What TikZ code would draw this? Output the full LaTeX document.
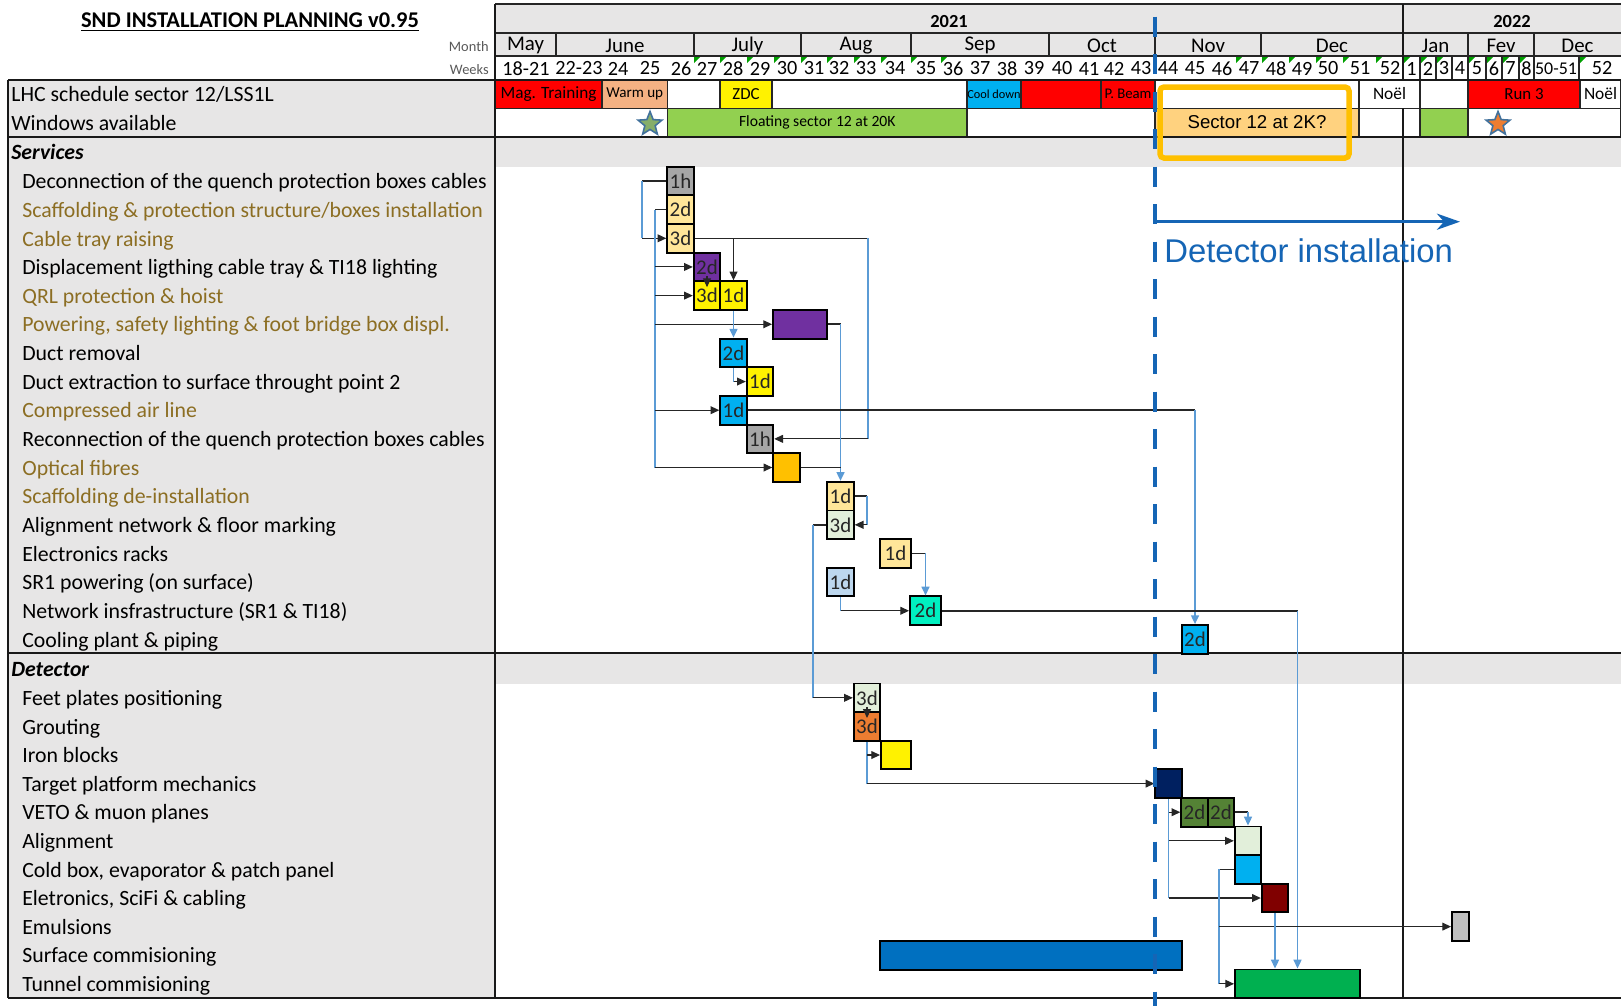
\documentclass[tikz,border=0pt]{standalone}
\usepackage{fontspec}
\setmainfont{Carlito}
\newfontfamily\arialfont{Liberation Sans}
\usetikzlibrary{arrows.meta,calc,shapes.geometric}
\newcommand{\fsz}[1]{\fontsize{#1}{#1}\selectfont}
\definecolor{bandgray}{HTML}{E7E6E6}
\definecolor{brownlbl}{RGB}{140,110,35}
\definecolor{lnkblue}{HTML}{5B9BD5}
\definecolor{dashblue}{HTML}{1565B5}
\definecolor{salmon}{HTML}{F4B183}
\definecolor{skycyan}{HTML}{00B0F0}
\definecolor{floatgreen}{HTML}{92D050}
\definecolor{sectorfill}{HTML}{FFD27F}
\definecolor{sectorline}{HTML}{FFC000}
\definecolor{tanbox}{HTML}{FFE699}
\definecolor{purplebox}{HTML}{7030A0}
\definecolor{graybox}{HTML}{A6A6A6}
\definecolor{palegreen}{HTML}{E2EFDA}
\definecolor{paleblue}{HTML}{BDD7EE}
\definecolor{aquabox}{HTML}{00F0C0}
\definecolor{amber}{HTML}{FFC000}
\definecolor{burnt}{HTML}{ED7D31}
\definecolor{navybox}{HTML}{002060}
\definecolor{olivebox}{HTML}{548235}
\definecolor{maroonbox}{HTML}{800000}
\definecolor{silverbox}{HTML}{BFBFBF}
\definecolor{barblue}{HTML}{0070C0}
\definecolor{tunnelgreen}{HTML}{00B050}
\definecolor{starblue}{HTML}{41719C}
\definecolor{stargreen}{HTML}{86AE6A}
\definecolor{cmtgreen}{HTML}{00A000}
\tikzstyle{task}=[rectangle,draw,line width=1.1pt,minimum width=0.53cm,minimum height=0.573cm,inner sep=0pt,text=black!85,font=\fsz{11.9}]
\tikzstyle{cell}=[rectangle,draw=black!85,line width=0.6pt,minimum height=0.57cm,inner sep=0pt]
\tikzstyle{lbl}=[anchor=west,inner sep=0pt,yshift=-1.4pt,text height=8.5pt,text depth=2.5pt,font=\fsz{12.4}]
\tikzstyle{hdr}=[inner sep=0pt,font=\fsz{11.9}]
\tikzstyle{wk}=[inner sep=0pt,font=\fsz{11.5}]
\tikzstyle{grid}=[draw=black!85,line width=0.7pt]
\tikzstyle{frame}=[draw=black!90,line width=1.1pt]
\tikzstyle{hln}=[draw=black!85,line width=0.9pt]
\tikzstyle{vln}=[draw=lnkblue,line width=0.9pt]
\tikzstyle{arr}=[->,>={Triangle[length=5pt,width=4.5pt]},draw=black!85,line width=0.6pt]
\tikzstyle{blarr}=[->,>={Triangle[length=5pt,width=4.5pt]},draw=lnkblue,line width=0.9pt]
\begin{document}
\begin{tikzpicture}[x=0.02cm,y=-0.02cm]
    \useasboundingbox (0,0) rectangle (1621,1005);
    \fill[white] (0,0) rectangle (1621,1005);
    \fill[bandgray] (495,4) rectangle (1621,56);
    \fill[bandgray] (8,80) rectangle (495,998);
    \fill[bandgray] (495,137) rectangle (1621,167);
    \fill[bandgray] (495,653) rectangle (1621,684);

    \node[font=\fsz{12.8}\bfseries] (title) at (250,22) {\underline{SND INSTALLATION PLANNING v0.95}};
    \node[anchor=east,inner sep=0pt,text=black!65,font=\fsz{8.2}] (month) at (489,47) {Month};
    \node[anchor=east,inner sep=0pt,text=black!65,font=\fsz{8.2}] (weeks) at (489,70) {Weeks};
    \node[hdr,font=\fsz{10.5}\bfseries] (Y21) at (949,22) {2021};
    \node[hdr,font=\fsz{10.5}\bfseries] (Y22) at (1512,22) {2022};
    \node[hdr] (Mmay) at (525.5,45.5) {May};
    \node[hdr] (Mjun) at (625,45.5) {June};
    \node[hdr] (Mjul) at (747.5,45.5) {July};
    \node[hdr] (Maug) at (856,45.5) {Aug};
    \node[hdr] (Msep) at (980,45.5) {Sep};
    \node[hdr] (Moct) at (1102,45.5) {Oct};
    \node[hdr] (Mnov) at (1208,45.5) {Nov};
    \node[hdr] (Mdec) at (1332,45.5) {Dec};
    \node[hdr] (Mjan) at (1435.5,45.5) {Jan};
    \node[hdr] (Mfev) at (1501,45.5) {Fev};
    \node[hdr] (Mdec2) at (1577.5,45.5) {Dec};
    \foreach \wx/\wl [count=\wi] in {526/18-21,579/22-23,618/24,650/25,681/26,707/27,733/28,760/29,787/30,814/31,839/32,866/33,895/34,926/35,953/36,980/37,1007/38,1034/39,1062/40,1089/41,1114/42,1141/43,1168/44,1195/45,1222/46,1249/47,1276/48,1302/49,1328/50,1360/51,1390/52,1411.5/1,1428/2,1444/3,1460/4,1477/5,1494/6,1510.5/7,1526.5/8,1602/52}
        \node[wk] (W\wi) at (\wx,68.5) {\wl};
    \node[wk,font=\fsz{10.2}] (W5051) at (1556,68.5) {50-51};
    \foreach \tx in {694,720,747,774,801,827,854,881,911,941,1236,1262,1289,1316,1343,1376,1404,1421,1437,1469,1487,1503,1520,1580}
        \fill[cmtgreen] (\tx,57) -- ++(6,0) -- ++(-6,6) -- cycle;

    \node[cell,fill=red,minimum width=2.14cm,font=\fsz{9.8}] (Cmag) at (548.5,94) {Mag. Training};
    \node[cell,fill=salmon,minimum width=1.31cm,font=\fsz{8.6}] (Cwarm) at (634.75,94) {Warm up};
    \node[cell,fill=white,minimum width=1.05cm] (Cw1) at (693.75,94) {};
    \node[cell,fill=yellow,minimum width=1.04cm,font=\fsz{9.6}] (Czdc) at (746,94) {ZDC};
    \node[cell,fill=white,minimum width=3.9cm] (Cw2) at (869.5,94) {};
    \node[cell,fill=skycyan,minimum width=1.08cm,font=\fsz{7}] (Ccool) at (994,94) {Cool down};
    \node[cell,fill=red,minimum width=1.6cm] (Cred) at (1061,94) {};
    \node[cell,fill=red,minimum width=1.08cm,font=\fsz{8.4}] (Cbeam) at (1128,94) {P. Beam};
    \node[cell,fill=white,minimum width=4.08cm] (Cw3) at (1257,94) {};
    \node[cell,fill=white,minimum width=1.22cm,font=\fsz{9.9}] (Cnoel) at (1389.5,94) {Noël};
    \node[cell,fill=white,minimum width=0.96cm] (Cw5) at (1444,94) {};
    \node[cell,fill=red,minimum width=2.24cm,font=\fsz{9.6}] (Crun) at (1524,94) {Run 3};
    \node[cell,fill=white,minimum width=0.82cm,font=\fsz{9.9}] (Cnoel2) at (1600.5,94) {Noël};

    \node[cell,fill=white,minimum width=3.45cm] (V1) at (581.25,122.5) {};
    \node[cell,fill=floatgreen,minimum width=5.99cm,font=\fsz{8.9}] (Vfloat) at (817.25,122.5) {Floating sector 12 at 20K};
    \node[cell,fill=white,minimum width=3.76cm] (V3) at (1061,122.5) {};
    \node[cell,fill=sectorfill,minimum width=4.08cm,font=\arialfont\fsz{10.6}] (Vsector) at (1257,122.5) {Sector 12 at 2K?};
    \node[cell,fill=white,minimum width=0.88cm] (V5) at (1381,122.5) {};
    \node[cell,fill=white,minimum width=0.34cm] (V6) at (1411.5,122.5) {};
    \node[cell,fill=floatgreen,minimum width=0.96cm] (V7) at (1444,122.5) {};
    \node[cell,fill=white,minimum width=3.06cm] (V8) at (1544.5,122.5) {};
    \node[star,star points=5,star point ratio=2.3,minimum size=0.5cm,inner sep=0pt,draw=starblue,line width=0.9pt,fill=stargreen] (Star1) at (650,124) {};
    \node[star,star points=5,star point ratio=2.3,minimum size=0.5cm,inner sep=0pt,draw=starblue,line width=0.9pt,fill=burnt] (Star2) at (1498,124) {};

    \foreach \mx in {556,694,801,911,1049,1155,1261,1468,1534}
        \draw[grid] (\mx,33) -- (\mx,56);
    \foreach \sx in {1420,1436,1452,1468,1486,1502,1519,1534,1579}
        \draw[grid] (\sx,56) -- (\sx,80);
    \draw[grid] (495,4) -- (1621,4);
    \draw[grid] (495,33) -- (1621,33);
    \draw[grid] (495,56) -- (1621,56);
    \draw[frame] (8,80) -- (1621,80);
    \draw[frame] (8,137) -- (1621,137);
    \draw[frame] (8,653) -- (1621,653);
    \draw[frame] (8,998) -- (1621,998);
    \draw[frame] (8,80) -- (8,998);
    \draw[frame] (495,4) -- (495,998);
    \draw[frame] (1403,4) -- (1403,80);
    \draw[frame] (1403,108) -- (1403,998);

    \node[lbl] (Lsched) at (11,94) {LHC schedule sector 12/LSS1L};
    \node[lbl] (Lwin) at (11,122.5) {Windows available};
    \node[lbl,font=\fsz{12.4}\bfseries\itshape] (Lserv) at (11,152) {Services};
    \node[lbl] (LT1) at (22,181) {Deconnection of the quench protection boxes cables};
    \node[lbl,text=brownlbl] (LT2) at (22,209.65) {Scaffolding \& protection structure/boxes installation};
    \node[lbl,text=brownlbl] (LT3) at (22,238.3) {Cable tray raising};
    \node[lbl] (LT4) at (22,266.95) {Displacement ligthing cable tray \& TI18 lighting};
    \node[lbl,text=brownlbl] (LT5) at (22,295.6) {QRL protection \& hoist};
    \node[lbl,text=brownlbl] (LT6) at (22,324.25) {Powering, safety lighting \& foot bridge box displ.};
    \node[lbl] (LT7) at (22,352.9) {Duct removal};
    \node[lbl] (LT8) at (22,381.55) {Duct extraction to surface throught point 2};
    \node[lbl,text=brownlbl] (LT9) at (22,410.2) {Compressed air line};
    \node[lbl] (LT10) at (22,438.85) {Reconnection of the quench protection boxes cables};
    \node[lbl,text=brownlbl] (LT11) at (22,467.5) {Optical fibres};
    \node[lbl,text=brownlbl] (LT12) at (22,496.15) {Scaffolding de-installation};
    \node[lbl] (LT13) at (22,524.8) {Alignment network \& floor marking};
    \node[lbl] (LT14) at (22,553.45) {Electronics racks};
    \node[lbl] (LT15) at (22,582.1) {SR1 powering (on surface)};
    \node[lbl] (LT16) at (22,610.75) {Network insfrastructure (SR1 \& TI18)};
    \node[lbl] (LT17) at (22,639.4) {Cooling plant \& piping};
    \node[lbl,font=\fsz{12.4}\bfseries\itshape] (Ldet) at (11,668.5) {Detector};
    \node[lbl] (LD1) at (22,697.8) {Feet plates positioning};
    \node[lbl] (LD2) at (22,726.4) {Grouting};
    \node[lbl] (LD3) at (22,755) {Iron blocks};
    \node[lbl] (LD4) at (22,783.6) {Target platform mechanics};
    \node[lbl] (LD5) at (22,812.2) {VETO \& muon planes};
    \node[lbl] (LD6) at (22,840.8) {Alignment};
    \node[lbl] (LD7) at (22,869.4) {Cold box, evaporator \& patch panel};
    \node[lbl] (LD8) at (22,898) {Eletronics, SciFi \& cabling};
    \node[lbl] (LD9) at (22,926.6) {Emulsions};
    \node[lbl] (LD10) at (22,955.2) {Surface commisioning};
    \node[lbl] (LD11) at (22,983.8) {Tunnel commisioning};

    \node[task,fill=graybox] (T1) at (680.5,181) {1h};
    \node[task,fill=tanbox] (T2) at (680.5,209.65) {2d};
    \node[task,fill=tanbox] (T3) at (680.5,238.3) {3d};
    \node[task,fill=purplebox] (T4) at (707,266.95) {2d};
    \node[task,fill=yellow] (T5a) at (707,295.6) {3d};
    \node[task,fill=yellow] (T5b) at (733.5,295.6) {1d};
    \node[task,fill=purplebox,minimum width=1.08cm] (T6) at (800,324.25) {};
    \node[task,fill=skycyan] (T7) at (733.5,352.9) {2d};
    \node[task,fill=yellow] (T8) at (760,381.55) {1d};
    \node[task,fill=skycyan] (T9) at (733.5,410.2) {1d};
    \node[task,fill=graybox] (T10) at (760,438.85) {1h};
    \node[task,fill=amber] (T11) at (786.5,467.5) {};
    \node[task,fill=tanbox] (T12) at (840.5,496.15) {1d};
    \node[task,fill=palegreen] (T13) at (840.5,524.8) {3d};
    \node[task,fill=tanbox,minimum width=0.62cm] (T14) at (895.5,553.45) {1d};
    \node[task,fill=paleblue] (T15) at (840.5,582.1) {1d};
    \node[task,fill=aquabox,minimum width=0.62cm] (T16) at (925.5,610.75) {2d};
    \node[task,fill=skycyan] (T17) at (1195,639.4) {2d};

    \node[task,fill=palegreen] (D1) at (867,697.8) {3d};
    \node[task,fill=burnt] (D2) at (867,726.4) {3d};
    \node[task,fill=yellow,minimum width=0.6cm] (D3) at (896,755) {};
    \node[task,fill=navybox] (D4) at (1168.5,783.6) {};
    \node[task,fill=olivebox] (D5a) at (1194.5,812.2) {2d};
    \node[task,fill=olivebox] (D5b) at (1221,812.2) {2d};
    \node[task,fill=palegreen] (D6) at (1248,840.8) {};
    \node[task,fill=skycyan] (D7) at (1248,869.4) {};
    \node[task,fill=maroonbox] (D8) at (1275,898) {};
    \node[task,fill=silverbox,minimum width=0.34cm] (D9) at (1460.5,926.6) {};
    \node[task,fill=barblue,minimum width=6.04cm] (D10) at (1031,955.2) {};
    \node[task,fill=tunnelgreen,minimum width=2.5cm] (D11) at (1297.5,983.8) {};

    \coordinate (pA) at (642,0);
    \coordinate (pB) at (655,0);
    \coordinate (pC) at (868,0);
    \coordinate (pD) at (867,0);
    \coordinate (pE) at (813,0);
    \coordinate (pF) at (1219,0);

    \draw[hln] (T1.west) -- (pA |- T1.west);
    \draw[vln] (pA |- T1.west) -- (pA |- T3.west);
    \draw[arr] (pA |- T3.west) -- (T3.west);
    \draw[hln] (T2.west) -- (pB |- T2.west);
    \draw[vln] (pB |- T2.west) -- (pB |- T11.west);
    \draw[arr] (pB |- T4.west) -- (T4.west);
    \draw[arr] (pB |- T5a.west) -- (T5a.west);
    \draw[arr] (pB |- T6.west) -- (T6.west);
    \draw[arr] (pB |- T9.west) -- (T9.west);
    \draw[arr] (pB |- T11.west) -- (T11.west);
    \draw[hln] (T3.east) -- (pC |- T3.east);
    \draw[arr] (T5b.north |- T3.east) -- (T5b.north);
    \draw[vln] (pC |- T3.east) -- (pC |- T10.east);
    \draw[arr] (pC |- T10.east) -- (T10.east);
    \draw[arr] ($(T4.center)!0.6!(T4.south)$) -- ($(T5a.north)!0.45!(T5a.center)$);
    \draw[blarr] (T5b.south) -- (T7.north);
    \draw[vln] (T7.south) -- (T7.south |- T8.west);
    \draw[arr] (T7.south |- T8.west) -- (T8.west);
    \draw[hln] (T6.east) -- (T6.east -| T12.north);
    \draw[blarr] (T6.east -| T12.north) -- (T12.north);
    \draw[hln] (T11.east) -- (T11.east -| T12.north);
    \draw[hln] (T9.east) -- (T9.east -| T17.north);
    \draw[blarr] (T9.east -| T17.north) -- (T17.north);
    \draw[hln] (T12.east) -- (pD |- T12.east);
    \draw[vln] (pD |- T12.east) -- (pD |- T13.east);
    \draw[arr] (pD |- T13.east) -- (T13.east);
    \draw[hln] (T13.west) -- (pE |- T13.west);
    \draw[vln] (pE |- T13.west) -- (pE |- D1.west);
    \draw[arr] (pE |- D1.west) -- (D1.west);
    \draw[hln] (T14.east) -- (T14.east -| T16.north);
    \draw[blarr] (T14.east -| T16.north) -- (T16.north);
    \draw[vln] (T15.south) -- (T15.south |- T16.west);
    \draw[arr] (T15.south |- T16.west) -- (T16.west);
    \draw[hln] (T16.east) -- (T16.east -| D11.north);
    \draw[blarr] (T16.east -| D11.north) -- (D11.north);

    \draw[arr] ($(D1.center)!0.6!(D1.south)$) -- ($(D2.north)!0.45!(D2.center)$);
    \draw[vln] (D2.south) -- (D2.south |- D4.west);
    \draw[arr] (D2.south |- D3.west) -- (D3.west);
    \draw[arr] (D2.south |- D4.west) -- (D4.west);
    \draw[vln] (D4.south) -- (D4.south |- D8.west);
    \draw[arr] (D4.south |- D5a.west) -- (D5a.west);
    \draw[arr] (D4.south |- D6.west) -- (D6.west);
    \draw[arr] (D4.south |- D8.west) -- (D8.west);
    \draw[hln] (D5b.east) -- (D5b.east -| D6.north);
    \draw[blarr] (D5b.east -| D6.north) -- (D6.north);
    \draw[hln] (D7.west) -- (pF |- D7.west);
    \draw[vln] (pF |- D7.west) -- (pF |- D11.west);
    \draw[arr] (pF |- D9.west) -- (D9.west);
    \draw[arr] (pF |- D11.west) -- (D11.west);
    \draw[blarr] (D8.south) -- (D8.south |- D11.north);

    \draw[sectorline,line width=0.11cm,rounded corners=0.08cm] (1160,87) rectangle (1349,158);
    \draw[dashblue,line width=0.08cm,dash pattern=on 0.4cm off 0.35cm] (1155,-20.8) -- (1155,1030);
    \coordinate (DIs) at (1155,221.7);
    \coordinate (DIe) at (1460,221.7);
    \draw[dashblue,line width=0.065cm,-{Stealth[length=0.46cm,width=0.32cm,inset=0.14cm]}] (DIs) -- (DIe);
    \node[anchor=base west,inner sep=0pt,text=dashblue,font=\arialfont\fsz{18.7}] (DItxt) at (1164,262) {Detector installation};
\end{tikzpicture}
\end{document}
